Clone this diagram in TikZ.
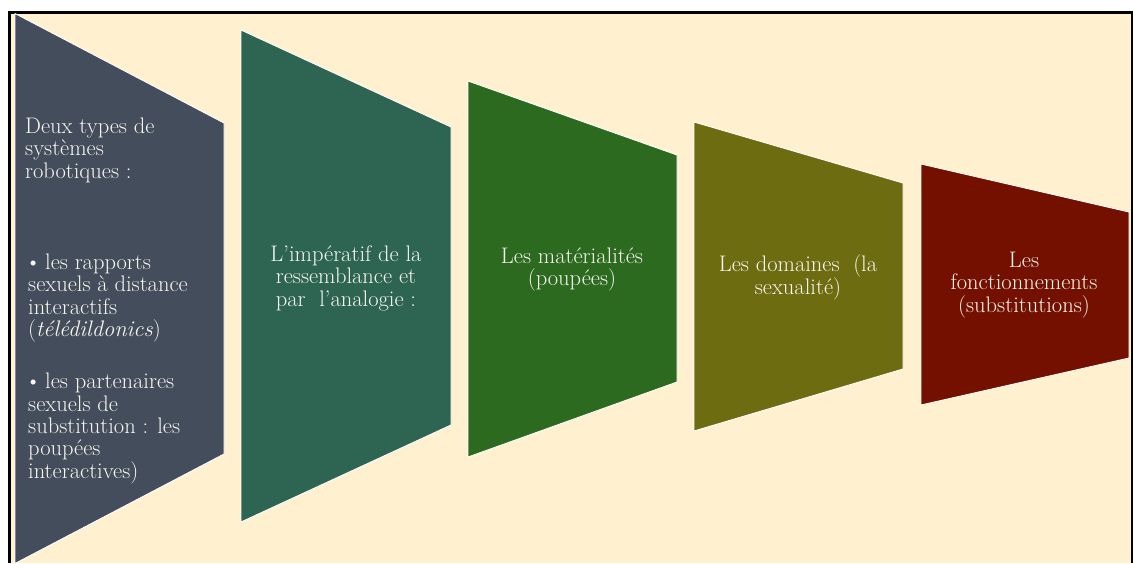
\documentclass[tikz,border=0pt]{standalone}
\usepackage{fontspec}
\definecolor{cream}{HTML}{FFF1D0}
\definecolor{slate}{HTML}{434D5B}
\definecolor{teal}{HTML}{2E6552}
\definecolor{leaf}{HTML}{2C6A1F}
\definecolor{olive}{HTML}{6E6C10}
\definecolor{maroon}{HTML}{731000}
\definecolor{txt}{HTML}{F8F6F0}
\tikzset{
  panel/.style={draw=white, line width=0.9pt, line join=miter},
  lbl/.style={text=txt, inner sep=0pt, font=\fontsize{22.5}{22.4}\selectfont},
  clbl/.style={lbl, align=center},
  llbl/.style={lbl, align=left, anchor=west},
}
\begin{document}
\begin{tikzpicture}[x=1pt,y=-1pt]
\useasboundingbox (0,0) rectangle (1133,563);
\fill[white] (0,0) rectangle (1133,563);
\fill[cream] (9.5,12.5) rectangle (1132,563);
\draw[line width=2.5pt] (9.5,563) -- (9.5,12.5) -- (1132,12.5) -- (1132,563);
% panels
\filldraw[panel, fill=slate] (15,13.5) -- (224,123) -- (224,454) -- (15,563.5) -- cycle;
\filldraw[panel, fill=teal] (241,30) -- (451,127) -- (451,425) -- (241,522) -- cycle;
\filldraw[panel, fill=leaf] (468,81) -- (677,155) -- (677,382) -- (468,457) -- cycle;
\filldraw[panel, fill=olive] (694,122) -- (903,183) -- (903,369) -- (694,431) -- cycle;
\filldraw[panel, fill=maroon] (921,164) -- (1129,212) -- (1129,358) -- (921,405) -- cycle;
% texts
\node[llbl] (t1a) at (25,150) {Deux types de\\systèmes\\robotiques :};
\node[llbl] (t1b) at (25,298) {\textbullet\,les rapports\\\hspace*{3pt}sexuels à distance\\\hspace*{3pt}interactifs\\\hspace*{3pt}(\textit{télédildonics})};
\node[llbl] (t1c) at (25,428.5) {\textbullet\,les partenaires\\\hspace*{3pt}sexuels de\\\hspace*{3pt}substitution : les\\\hspace*{3pt}poupées\\\hspace*{3pt}interactives)};
\node[clbl] (t2) at (346,278) {L’impératif de la\\ressemblance et\\par\ \ l’analogie :};
\node[clbl] (t3) at (572,269.5) {Les matérialités\\(poupées)};
\node[clbl] (t4) at (798,277.5) {Les domaines\ \ (la\\sexualité)};
\node[clbl] (t5) at (1024,285) {Les\\fonctionnements\\(substitutions)};
\end{tikzpicture}
\end{document}
